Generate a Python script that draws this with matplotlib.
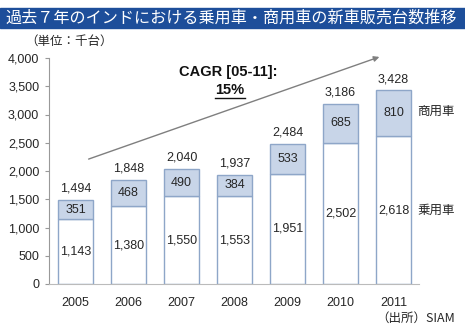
import matplotlib
matplotlib.use("Agg")
import matplotlib.pyplot as plt
from matplotlib.patches import Rectangle, FancyArrowPatch

plt.rcParams['font.family'] = ['Liberation Sans', 'Noto Sans CJK JP', 'DejaVu Sans']

years = ['2005', '2006', '2007', '2008', '2009', '2010', '2011']
passenger = [1143, 1380, 1550, 1553, 1951, 2502, 2618]
commercial = [351, 468, 490, 384, 533, 685, 810]
totals = [1494, 1848, 2040, 1937, 2484, 3186, 3428]
yticks = [0, 500, 1000, 1500, 2000, 2500, 3000, 3500, 4000]

W, H = 465, 335
fig = plt.figure(figsize=(W/100, H/100), dpi=100)
ax = fig.add_axes([49/W, 1-284/H, (420-49)/W, (284-58)/H])

txt = '#262626'
fs = 9
x = list(range(len(years)))
edge = '#8ea6c8'
ax.bar(x, passenger, width=0.67, color='white', edgecolor=edge, linewidth=1.0)
ax.bar(x, commercial, bottom=passenger, width=0.67, color='#c8d5e8', edgecolor=edge, linewidth=1.0)

for i in x:
    ax.text(i, passenger[i]/2, f"{passenger[i]:,}", ha='center', va='center', fontsize=fs, color=txt)
    ax.text(i, passenger[i] + commercial[i]/2, f"{commercial[i]:,}", ha='center', va='center', fontsize=fs, color=txt)
    ax.text(i, totals[i] + 90, f"{totals[i]:,}", ha='center', va='bottom', fontsize=fs, color=txt)

ax.set_xlim(-0.5, 6.5)
ax.set_ylim(0, 4000)
ax.set_yticks(yticks)
ax.set_yticklabels([f"{v:,}" for v in yticks], fontsize=fs, color=txt)
ax.set_xticks(x)
ax.set_xticklabels(years, fontsize=fs, color=txt)
ax.tick_params(axis='x', length=0, pad=9)
ax.tick_params(axis='y', length=3, color='#999999', pad=4)
for s in ['top', 'right']:
    ax.spines[s].set_visible(False)
ax.spines['left'].set_color('#999999')
ax.spines['bottom'].set_color('#bbbbbb')
ax.spines['bottom'].set_linestyle((0, (1, 1)))

# series labels
ax.text(6.45, 3044, '商用車', ha='left', va='center', fontsize=fs, color=txt, clip_on=False)
ax.text(6.45, 1292, '乗用車', ha='left', va='center', fontsize=fs, color=txt, clip_on=False)

# CAGR arrow
fig.add_artist(FancyArrowPatch((86/W, 1-160/H), (382/W, 1-56/H), transform=fig.transFigure,
               arrowstyle='-|>', mutation_scale=8, color='#7f7f7f', linewidth=1.0))
fig.text(228/W, 1-72/H, 'CAGR [05-11]:', ha='center', va='center', fontsize=10.5, fontweight='bold', color='#111111')
fig.text(230/W, 1-90/H, '15%', ha='center', va='center', fontsize=10.5, fontweight='bold', color='#111111')
fig.add_artist(plt.Line2D([215/W, 245/W], [1-98/H, 1-98/H], color='#111111', linewidth=1.0))

# title bar
fig.add_artist(Rectangle((0, 1-28/H), 1, 20/H, transform=fig.transFigure, color='#1d4e9a'))
fig.text(5/W, 1-18/H, '過去７年のインドにおける乗用車・商用車の新車販売台数推移', ha='left', va='center',
         fontsize=11.6, color='white', family=['Noto Sans CJK JP', 'DejaVu Sans'])
fig.text(25/W, 1-41/H, '（単位：千台）', ha='left', va='center', fontsize=9, color=txt,
         family=['Noto Sans CJK JP', 'DejaVu Sans'])
fig.text(455/W, 1-318/H, '（出所）SIAM', ha='right', va='center', fontsize=9, color=txt,
         family=['Noto Sans CJK JP', 'DejaVu Sans'])

fig.savefig('out.png', dpi=100)
